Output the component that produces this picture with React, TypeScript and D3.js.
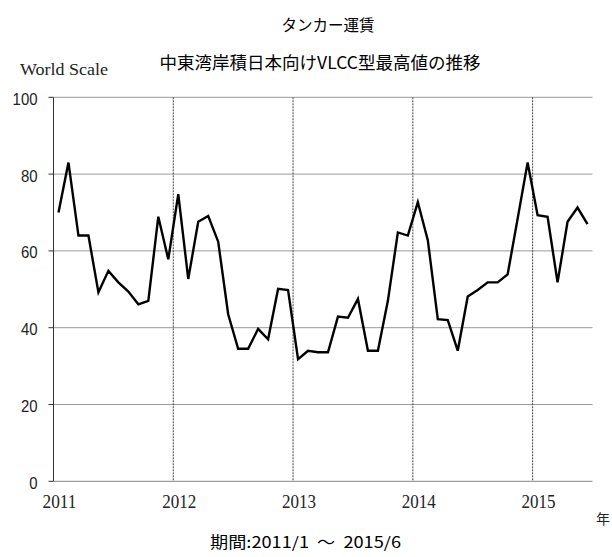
import * as d3 from "d3";

// Monthly max VLCC rates (World Scale), 2011/1 .. 2015/6
const rates2011 = [70, 83, 64, 64, 49.2, 54.8, 51.8, 49.4, 46.1, 47, 68.9, 57.8];
const rates2012 = [74.8, 52.7, 67.6, 69.1, 62.4, 43.5, 34.5, 34.5, 39.7, 37, 50.1, 49.8];
const rates2013 = [31.8, 34, 33.6, 33.6, 42.9, 42.6, 47.5, 34, 34, 47, 64.8, 64];
const rates2014 = [72.7, 62.8, 42.2, 42, 34, 48.1, 49.8, 51.8, 51.8, 53.9, 68.4, 83];
const rates2015 = [69.3, 68.9, 51.8, 67.6, 71.3, 67];

const years = ["2011", "2012", "2013", "2014", "2015"];
const yTicks = [0, 20, 40, 60, 80, 100];

const values = [...rates2011, ...rates2012, ...rates2013, ...rates2014, ...rates2015];

const WIDTH = 612;
const HEIGHT = 557;
const margin = { top: 97.3, right: 19.5, bottom: 75.7, left: 53.5 };

export default function App() {
  const x = d3
    .scaleLinear()
    .domain([0, 54])
    .range([margin.left, WIDTH - margin.right]);
  const y = d3
    .scaleLinear()
    .domain([0, 100])
    .range([HEIGHT - margin.bottom, margin.top]);

  const line = d3
    .line<number>()
    .x((_, i) => x(i + 0.5))
    .y((d) => y(d));

  const serif = "'Liberation Serif', 'DejaVu Serif', serif";
  const sans = "'Liberation Sans', Arial, sans-serif";
  const jp = "'Noto Sans CJK JP', sans-serif";

  return (
    <svg
      width={WIDTH}
      height={HEIGHT}
      style={{ position: "absolute", left: 0, top: 0, background: "#fff" }}
    >
      {/* titles */}
      <text x={328} y={31} textAnchor="middle" fontFamily={jp} fontSize={15.5} fill="#000">
        タンカー運賃
      </text>
      <text x={320} y={69} textAnchor="middle" fontFamily={jp} fontSize={17.5} fill="#000">
        中東湾岸積日本向けVLCC型最高値の推移
      </text>
      <text x={20} y={75} fontFamily={serif} fontSize={17} textLength={88} lengthAdjust="spacingAndGlyphs" fill="#222">
        World Scale
      </text>

      {/* horizontal grid */}
      {yTicks.filter((t) => t > 0).map((t) => (
        <line key={t} x1={x(0)} x2={x(54)} y1={y(t)} y2={y(t)} stroke="#999" strokeWidth={1} />
      ))}

      {/* year lines */}
      {years.slice(1).map((yr, k) => (
        <line
          key={yr}
          x1={x((k + 1) * 12)}
          x2={x((k + 1) * 12)}
          y1={y(100)}
          y2={y(0)}
          stroke="#444"
          strokeWidth={1}
          strokeDasharray="2 1"
        />
      ))}

      {/* axes */}
      <line x1={x(0)} x2={x(0)} y1={y(100)} y2={y(0)} stroke="#333" strokeWidth={1} />
      <line x1={x(0)} x2={x(54)} y1={y(0)} y2={y(0)} stroke="#888" strokeWidth={1} />
      {yTicks.map((t) => (
        <g key={t}>
          <line x1={x(0) - 5} x2={x(0)} y1={y(t)} y2={y(t)} stroke="#333" strokeWidth={1} />
          <text
            x={37.5}
            y={y(t) + 7.5}
            textAnchor="end"
            fontFamily={sans}
            fontSize={16.5}
            fill="#222"
            textLength={String(t).length * 8.3}
            lengthAdjust="spacingAndGlyphs"
          >
            {t}
          </text>
        </g>
      ))}

      {/* year labels */}
      {years.map((yr, k) => (
        <text
          key={yr}
          x={x(k * 12) + 6 - 17}
          y={508}
          fontFamily={serif}
          fontSize={18.5}
          fill="#222"
          textLength={34}
          lengthAdjust="spacingAndGlyphs"
        >
          {yr}
        </text>
      ))}
      <text x={596} y={524} fontFamily={jp} fontSize={14} fill="#222">
        年
      </text>

      {/* data line */}
      <path d={line(values) ?? ""} fill="none" stroke="#000" strokeWidth={2.4} strokeLinejoin="miter" />

      {/* period */}
      <text
        x={210}
        y={548}
        fontFamily={jp}
        fontSize={15.5}
        fill="#000"
        textLength={191}
        lengthAdjust="spacingAndGlyphs"
        style={{ whiteSpace: "pre" }}
      >
        {"期間:2011/1  ～  2015/6"}
      </text>
    </svg>
  );
}
